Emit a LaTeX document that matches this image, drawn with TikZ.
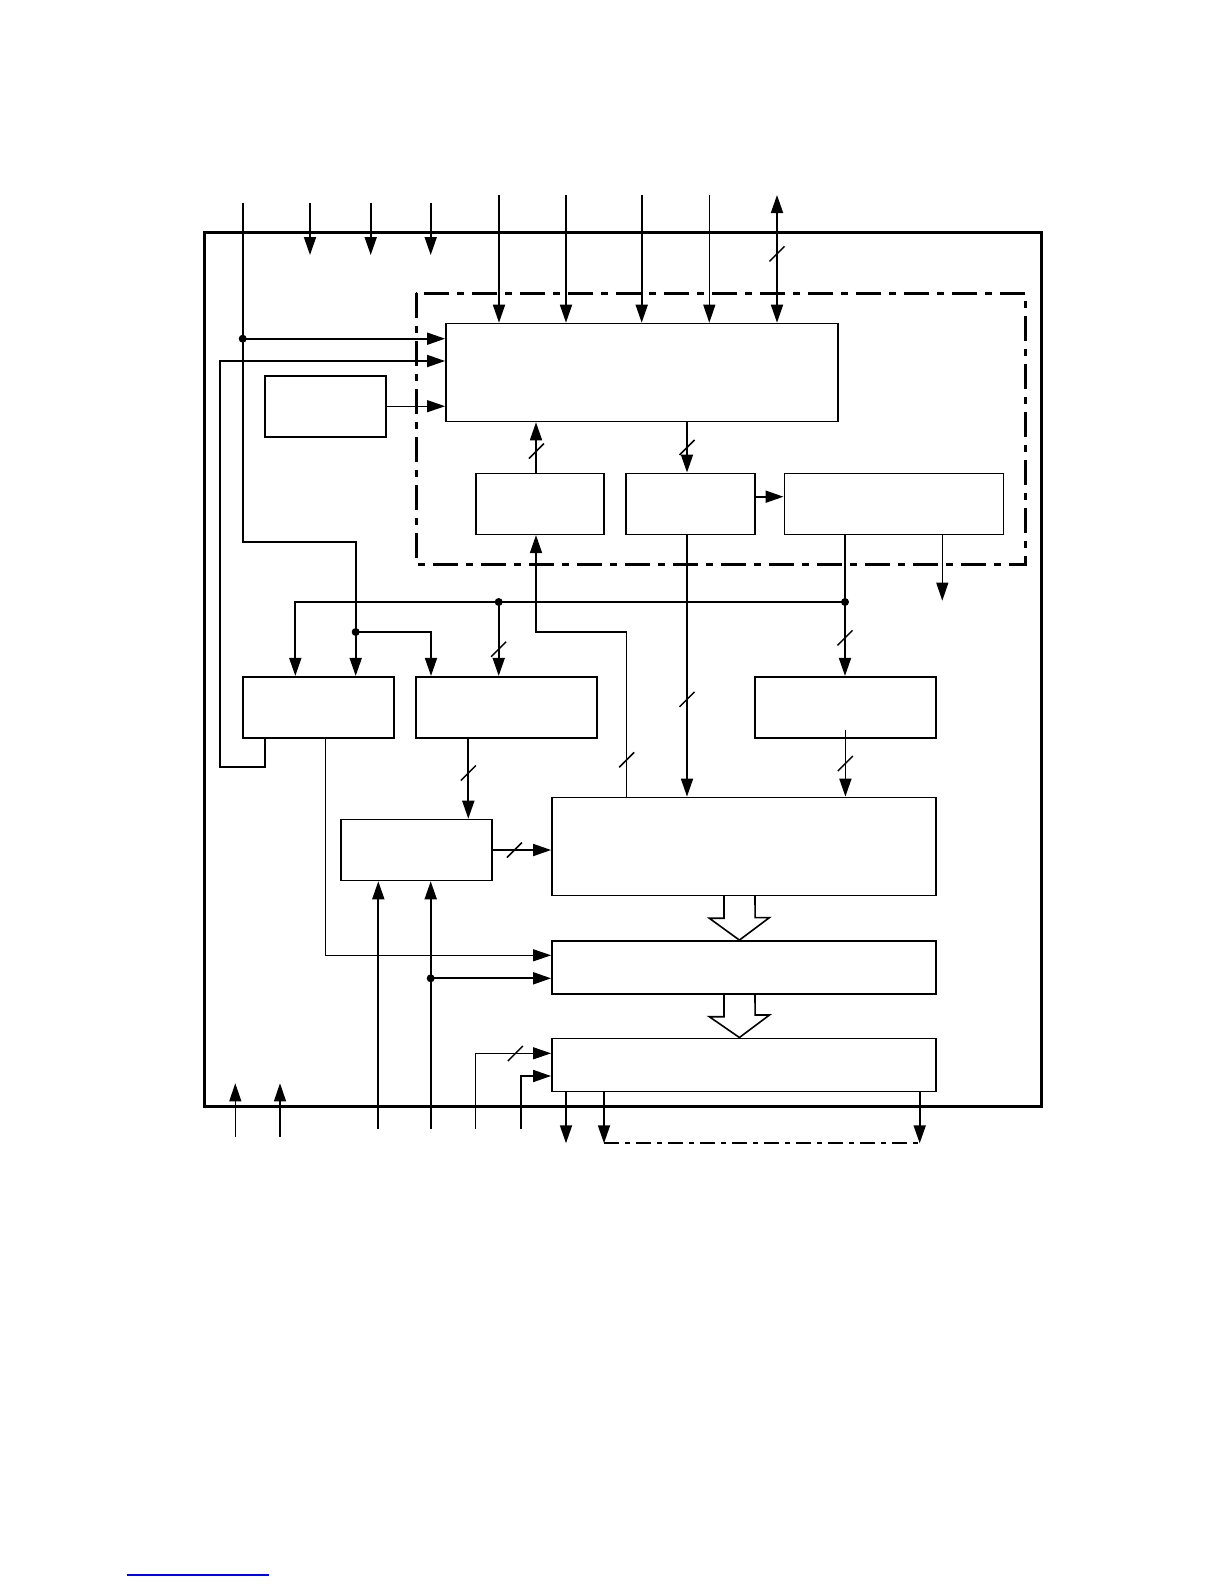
\documentclass[tikz,border=0pt]{standalone}
\usetikzlibrary{arrows.meta}
\newcommand{\busmark}[1]{\draw[line width=1.5pt] (#1) ++(-7.5,7.5) -- ++(15,-15);}

\begin{document}
\begin{tikzpicture}[x=1pt, y=-1pt, >={Triangle[length=18pt,width=12pt]},
    blk/.style={draw, line width=1.6pt, inner sep=0pt},
    wire/.style={line width=1.8pt},
    thinwire/.style={line width=1.1pt}]
  \useasboundingbox (0,0) rectangle (1225,1585);

  \draw[line width=3pt] (204.3,232.3) rectangle (1041.7,1106.7);
  \draw[line width=3pt, dash pattern=on 25pt off 8pt on 7pt off 8pt] (416,293.3) rectangle (1025.7,564.3);

  \node[blk, minimum width=392pt, minimum height=98pt] (ctl) at (641.9,372.5) {};
  \node[blk, minimum width=121pt, minimum height=61pt] (osc) at (325.5,406.2) {};
  \node[blk, minimum width=128pt, minimum height=61pt] (rd) at (539.9,503.8) {};
  \node[blk, minimum width=129pt, minimum height=61pt] (wr) at (690.7,503.8) {};
  \node[blk, minimum width=219pt, minimum height=61pt] (irq) at (893.8,503.8) {};
  \node[blk, minimum width=151pt, minimum height=61pt] (clk) at (318.4,707.2) {};
  \node[blk, minimum width=181pt, minimum height=61pt] (cnt) at (506.5,707.2) {};
  \node[blk, minimum width=181pt, minimum height=61pt] (cmp) at (845.4,707.2) {};
  \node[blk, minimum width=151pt, minimum height=61pt] (cap) at (416.2,850) {};
  \node[blk, minimum width=384pt, minimum height=98pt] (reg) at (743.9,846.4) {};
  \node[blk, minimum width=384pt, minimum height=53pt] (pwm) at (743.9,967.4) {};
  \node[blk, minimum width=384pt, minimum height=53pt] (out) at (743.9,1064.8) {};

  \foreach \x in {310,370.7,430.7} \draw[wire,->] (\x,202.7) -- (\x,255);
  \foreach \x in {499,566,641.7} \draw[wire,->] (\x,195) -- (\x,0 |- ctl.north);
  \draw[thinwire,->] (709.3,195) -- (709.3,0 |- ctl.north);
  \draw[wire,<->] (777,195) -- (777,0 |- ctl.north);
  \busmark{777,253.8}

  \coordinate (clkin) at (242.7,202.7);
  \draw[wire,->] (clkin) |- (355.7,541.7) -- (355.7,0 |- clk.north);
  \draw[wire,->] (242.7,338.7) -- (ctl.west |- 0,338.7);
  \draw[wire,->] (355.7,632) -| (431,0 |- cnt.north);
  \draw[wire,->] (265,0 |- clk.south) -- (265,767.3) -| (220,361) -- (ctl.west |- 0,361);
  \draw[thinwire,->] (osc.east) -- (osc.east -| ctl.west);

  \draw[wire,->] (536,0 |- rd.north) -- (536,0 |- ctl.south);
  \busmark{536.5,451}
  \draw[wire,->] (687,0 |- ctl.south) -- (687,0 |- wr.north);
  \busmark{687,447.5}
  \draw[wire,->] (wr.east |- 0,496.7) -- (irq.west |- 0,496.7);

  \draw[wire] (845,0 |- irq.south) -- (845,602);
  \draw[wire,->] (845,602) -- (845,0 |- cmp.north);
  \busmark{845,637.8}
  \draw[thinwire,->] (942.3,0 |- irq.south) -- (942.3,600.7);
  \draw[wire,->] (845,602) -| (295.3,0 |- clk.north);
  \draw[wire,->] (498.7,602) -- (498.7,0 |- cnt.north);
  \busmark{498.7,649.2}

  \draw[wire,->] (687,0 |- wr.south) -- (687,0 |- reg.north);
  \busmark{687,699.3}
  \draw[thinwire] (626.7,0 |- reg.north) -- (626.7,632);
  \draw[wire,->] (626.7,632) -| (536,0 |- rd.south);
  \busmark{626.7,759.8}
  \draw[wire,->] ([yshift=8.7pt]cmp.south) -- (cmp.south |- reg.north);
  \busmark{845.4,763.5}
  \draw[wire,->] (468.3,0 |- cnt.south) -- (468.3,0 |- cap.north);
  \busmark{468.3,773}
  \draw[wire,->] (cap.east) -- (cap.east -| reg.west);
  \busmark{514.5,850}

  \draw[thinwire,->] (325.7,0 |- clk.south) |- (pwm.west |- 0,955.3);
  \draw[wire,->] (378.3,1129) -- (378.3,0 |- cap.south);
  \draw[wire,->] (430.7,1129) -- (430.7,0 |- cap.south);
  \draw[wire,->] (430.7,978.3) -- (pwm.west |- 0,978.3);
  \draw[thinwire,->] (475.7,1129) |- (out.west |- 0,1053.3);
  \busmark{515.3,1053.5}
  \draw[wire,->] (520.7,1129) |- (out.west |- 0,1076);
  \foreach \x in {235.3,280} \draw[thinwire,->] (\x,1136.7) -- (\x,1083.3);
  \foreach \x in {566,604,919.7} \draw[wire,->] (\x,0 |- out.south) -- (\x,1143.3);
  \draw[wire, dash pattern=on 15pt off 6pt on 5pt off 6pt] (604,1143.3) -- (919.7,1143.3);

  \foreach \a/\b in {reg/pwm,pwm/out}
    \draw[line width=1.6pt] (724,0 |- \a.south) -- ++(0,22) -- ++(-14.7,0) -- (739.4,0 |- \b.north)
      -- ++(30,-22.5) -- ++(-14.3,0) -- (755,0 |- \a.south);

  \foreach \p in {{242.7,338.7},{355.7,632},{498.7,602},{845,602},{430.7,978.3}}
    \fill (\p) circle (4pt);

  \draw[blue, line width=1.2pt] (126.7,1575) -- (269,1575);
\end{tikzpicture}
\end{document}
